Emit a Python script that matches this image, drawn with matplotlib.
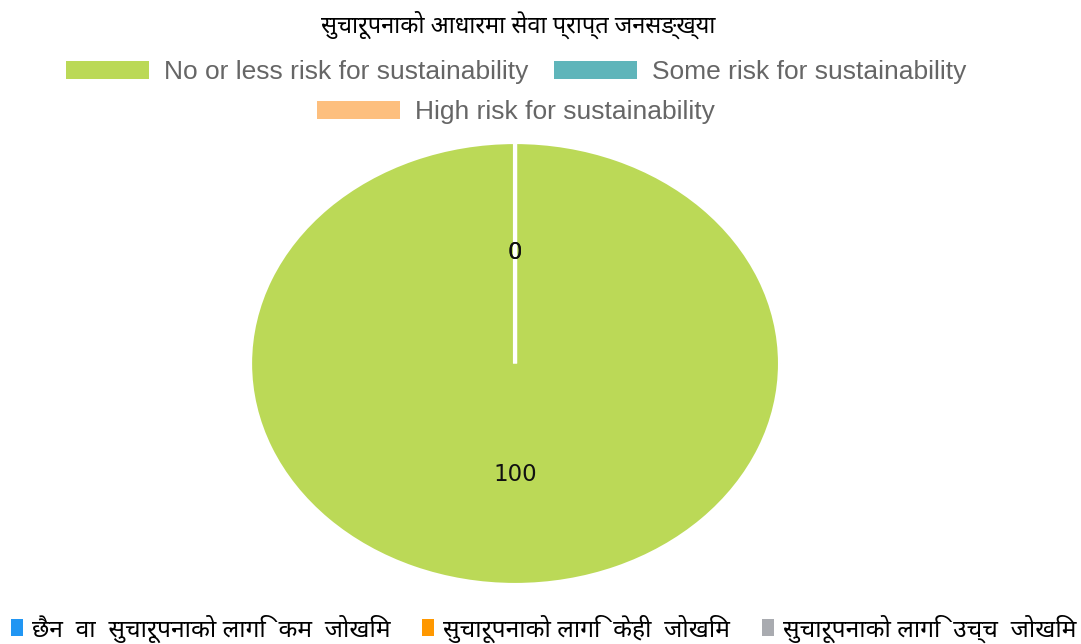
import matplotlib
matplotlib.use("Agg")
import matplotlib.pyplot as plt
from matplotlib import font_manager
from matplotlib.patches import Patch

# values
categories = ["No or less risk for sustainability", "Some risk for sustainability",
              "High risk for sustainability"]
values = [100, 0, 0]
colors = ["#BBD957", "#5FB5BA", "#FDBF7E"]

title = "सुचारूपनाको आधारमा सेवा प्राप्त जनसङ्ख्या"
bottom_labels = ["छैन  वा  सुचारूपनाको लागि  कम  जोखिम",
                 "सुचारूपनाको लागि  केही  जोखिम",
                 "सुचारूपनाको लागि  उच्च  जोखिम"]
bottom_colors = ["#2196F3", "#FF9800", "#A9ABB0"]

# pick a font that has Devanagari, if one exists
installed = {f.name for f in font_manager.fontManager.ttflist}
deva = [n for n in ["Noto Sans Devanagari", "Lohit Devanagari", "Mukta", "Kalimati",
                    "FreeSans", "Noto Serif Devanagari"] if n in installed]
deva_family = deva + ["DejaVu Sans"]
latin_family = ["Liberation Sans", "DejaVu Sans"]

fig = plt.figure(figsize=(10.81, 6.44), dpi=100)
ax = fig.add_axes([0.2313, 0.0916, 0.4903, 0.6879])

wedges, texts = ax.pie(values, colors=colors, startangle=90, counterclock=False,
                       labels=[str(v) for v in values], labeldistance=0.5,
                       wedgeprops=dict(edgecolor="white", linewidth=3),
                       textprops=dict(fontsize=16.5, color="#111111", family="DejaVu Sans"))
for t in texts:
    t.set_horizontalalignment("center")
    t.set_verticalalignment("center")
ax.set_aspect("auto")
ax.set_xlim(-1, 1)
ax.set_ylim(-1, 1)

fig.text(0.479, 0.961, title, ha="center", va="center", fontsize=17, family=deva_family)

# top legend, two rows
handles = [Patch(facecolor=c, edgecolor="none") for c in colors]
leg1 = fig.legend(handles[:2], categories[:2], loc="center", bbox_to_anchor=(0.4774, 0.888),
                  ncol=2, frameon=False, handlelength=3.15, handleheight=0.68,
                  columnspacing=0.95, handletextpad=0.57,
                  prop={"family": latin_family, "size": 19})
for t in leg1.get_texts():
    t.set_color("#666666")
leg2 = fig.legend(handles[2:], categories[2:], loc="center", bbox_to_anchor=(0.4774, 0.826),
                  frameon=False, handlelength=3.15, handleheight=0.68, handletextpad=0.57,
                  prop={"family": latin_family, "size": 19})
for t in leg2.get_texts():
    t.set_color("#666666")

# bottom legend
bh = [Patch(facecolor=c, edgecolor="none") for c in bottom_colors]
leg3 = fig.legend(bh, bottom_labels, loc="center", bbox_to_anchor=(0.503, 0.024), ncol=3,
                  frameon=False, handlelength=0.49, handleheight=0.66, handletextpad=0.37,
                  columnspacing=1.3, borderpad=0.1, prop={"family": deva_family, "size": 17.7})

fig.savefig("out.png", dpi=100)
